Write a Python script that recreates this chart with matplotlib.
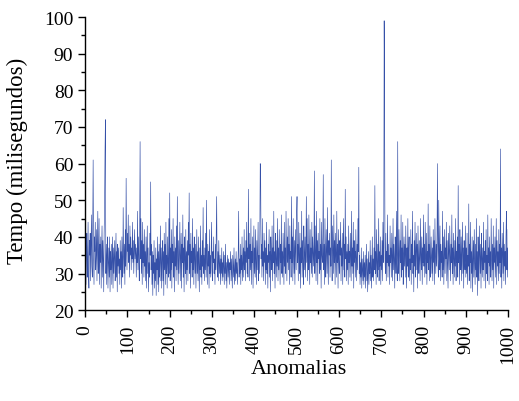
import numpy as np
import matplotlib
matplotlib.use("Agg")
import matplotlib.pyplot as plt
from matplotlib.ticker import MultipleLocator

# response time per anomaly (ms), 20 values per row
tempo = [
    38, 27, 36, 41, 29, 33, 44, 30, 26, 39, 35, 41, 28, 37, 46, 32, 29, 43, 61, 34,
    27, 40, 36, 44, 31, 35, 42, 28, 37, 47, 30, 34, 45, 27, 38, 33, 40, 26, 36, 43,
    29, 39, 34, 25, 41, 48, 63, 72, 30, 38, 27, 35, 40, 26, 33, 37, 29, 40, 25, 36,
    31, 38, 27, 34, 40, 26, 37, 30, 35, 39, 28, 33, 41, 29, 36, 25, 38, 32, 37, 30,
    34, 27, 39, 31, 36, 26, 40, 33, 29, 48, 35, 30, 38, 27, 42, 32, 56, 37, 31, 41,
    36, 46, 33, 38, 29, 43, 35, 40, 31, 37, 34, 44, 33, 39, 30, 36, 42, 34, 38, 35,
    29, 37, 33, 47, 31, 40, 35, 28, 43, 66, 34, 45, 30, 39, 27, 44, 33, 38, 29, 42,
    32, 36, 28, 40, 26, 34, 43, 30, 37, 25, 33, 29, 41, 35, 55, 31, 38, 27, 36, 24,
    35, 30, 39, 26, 33, 28, 37, 24, 34, 31, 40, 27, 36, 25, 38, 29, 33, 43, 28, 37,
    26, 34, 39, 28, 36, 24, 41, 31, 38, 27, 44, 30, 35, 26, 40, 33, 29, 45, 30, 52,
    28, 37, 31, 42, 26, 38, 33, 45, 29, 36, 25, 40, 32, 37, 28, 43, 31, 51, 34, 27,
    39, 30, 36, 44, 28, 35, 41, 26, 38, 33, 46, 29, 37, 25, 40, 34, 30, 42, 27, 36,
    31, 39, 28, 44, 35, 52, 30, 38, 26, 41, 33, 36, 29, 45, 31, 37, 27, 40, 34, 30,
    38, 26, 35, 42, 30, 36, 28, 40, 33, 25, 37, 31, 43, 29, 35, 27, 39, 32, 48, 30,
    35, 28, 37, 31, 41, 29, 50, 33, 27, 38, 32, 36, 26, 42, 30, 35, 29, 37, 44, 31,
    28, 36, 33, 40, 30, 34, 27, 38, 31, 42, 51, 32, 29, 36, 28, 39, 33, 30, 35, 27,
    34, 30, 37, 28, 33, 29, 36, 31, 27, 35, 30, 38, 28, 33, 26, 32, 35, 29, 34, 30,
    27, 33, 31, 36, 28, 34, 30, 26, 35, 32, 29, 37, 27, 31, 34, 28, 36, 30, 33, 27,
    32, 36, 47, 29, 34, 30, 38, 27, 35, 31, 40, 28, 33, 37, 29, 42, 31, 36, 28, 39,
    33, 44, 30, 37, 29, 53, 34, 41, 28, 38, 31, 45, 27, 36, 33, 40, 26, 35, 43, 30,
    37, 29, 42, 33, 27, 39, 31, 36, 44, 28, 35, 30, 40, 60, 58, 34, 38, 29, 45, 32,
    36, 28, 41, 33, 39, 27, 37, 31, 44, 30, 35, 26, 38, 33, 42, 29, 36, 25, 40, 34,
    31, 43, 28, 37, 33, 47, 30, 36, 26, 41, 34, 29, 39, 32, 45, 28, 37, 31, 42, 35,
    27, 38, 33, 46, 30, 36, 29, 41, 34, 27, 44, 32, 37, 30, 47, 35, 28, 40, 33, 45,
    31, 38, 27, 43, 34, 36, 29, 51, 33, 40, 28, 45, 35, 30, 39, 27, 42, 36, 31, 46,
    51, 33, 38, 28, 44, 35, 30, 41, 26, 37, 33, 47, 29, 39, 34, 27, 43, 36, 31, 40,
    29, 36, 51, 33, 45, 28, 38, 31, 46, 35, 27, 42, 33, 37, 30, 44, 29, 40, 36, 32,
    38, 58, 30, 43, 35, 28, 47, 33, 39, 27, 41, 34, 36, 30, 45, 31, 38, 26, 44, 35,
    33, 40, 57, 31, 38, 27, 45, 34, 29, 42, 36, 30, 48, 33, 27, 39, 35, 41, 29, 37,
    32, 61, 35, 28, 43, 37, 30, 46, 33, 39, 27, 41, 35, 29, 47, 33, 38, 26, 42, 34,
    30, 39, 35, 44, 28, 37, 32, 41, 27, 36, 45, 31, 38, 29, 53, 34, 40, 28, 36, 31,
    38, 27, 43, 33, 36, 29, 41, 35, 28, 47, 32, 37, 30, 44, 26, 39, 33, 36, 29, 42,
    34, 28, 38, 31, 45, 36, 59, 30, 35, 27, 33, 29, 37, 26, 34, 31, 28, 36, 27, 33,
    29, 35, 26, 32, 38, 28, 34, 25, 31, 36, 27, 33, 30, 39, 28, 35, 26, 32, 40, 29,
    34, 28, 37, 31, 54, 30, 36, 27, 42, 33, 29, 38, 31, 45, 28, 36, 32, 40, 27, 35,
    31, 39, 28, 44, 33, 37, 99, 76, 34, 30, 41, 28, 36, 33, 46, 29, 38, 32, 35, 27,
    43, 33, 37, 29, 41, 35, 28, 45, 31, 38, 34, 26, 40, 36, 30, 47, 33, 28, 66, 35,
    30, 42, 36, 28, 39, 33, 46, 29, 37, 31, 44, 27, 35, 40, 32, 38, 29, 43, 34, 26,
    37, 32, 45, 29, 36, 40, 28, 34, 31, 42, 27, 38, 33, 47, 30, 35, 25, 39, 32, 44,
    29, 36, 41, 31, 38, 26, 43, 34, 30, 39, 33, 28, 45, 35, 31, 40, 27, 37, 33, 46,
    32, 38, 29, 44, 35, 30, 41, 27, 36, 33, 49, 31, 38, 28, 43, 34, 29, 40, 35, 30,
    37, 28, 42, 33, 39, 27, 45, 35, 30, 38, 32, 41, 60, 34, 29, 50, 36, 31, 43, 28,
    38, 33, 36, 29, 47, 31, 40, 27, 35, 42, 30, 37, 34, 44, 28, 39, 33, 26, 41, 36,
    31, 43, 35, 28, 38, 33, 46, 30, 37, 27, 41, 34, 29, 39, 32, 45, 28, 36, 33, 40,
    29, 54, 33, 38, 27, 42, 35, 31, 40, 28, 36, 44, 30, 37, 26, 39, 34, 31, 43, 29,
    37, 30, 41, 27, 35, 32, 49, 28, 38, 33, 44, 26, 36, 30, 40, 25, 34, 39, 29, 42,
    33, 27, 38, 31, 45, 29, 36, 24, 40, 33, 28, 43, 35, 30, 38, 26, 41, 34, 29, 37,
    31, 44, 28, 36, 33, 39, 26, 42, 30, 35, 28, 46, 33, 37, 27, 40, 32, 36, 29, 45,
    34, 28, 38, 31, 43, 26, 37, 33, 40, 29, 35, 45, 27, 39, 32, 36, 28, 42, 30, 38,
    33, 64, 29, 37, 26, 41, 35, 30, 44, 28, 38, 32, 36, 27, 40, 47, 31, 37, 29, 42,
]
anomalias = np.arange(1, len(tempo) + 1)

plt.rcParams['font.family'] = ['Liberation Serif', 'DejaVu Serif']

fig = plt.figure(figsize=(5.19, 4.02), dpi=100)
ax = fig.add_axes([0.164, 0.226, 0.815, 0.729])

ax.plot(anomalias, tempo, color='#3550a8', lw=0.45)

ax.set_xlim(0, 1000)
ax.set_ylim(20, 100)
ax.xaxis.set_major_locator(MultipleLocator(100))
ax.xaxis.set_minor_locator(MultipleLocator(50))
ax.yaxis.set_major_locator(MultipleLocator(10))
ax.yaxis.set_minor_locator(MultipleLocator(5))

for s in ['top', 'right']:
    ax.spines[s].set_visible(False)
for s in ['left', 'bottom']:
    ax.spines[s].set_linewidth(1.0)

ax.tick_params(which='major', direction='out', length=5, width=1, labelsize=14)
ax.tick_params(which='minor', direction='out', length=3, width=1)
ax.tick_params(axis='x', labelrotation=90, pad=5)

# axis titles placed where the reference has them
fig.text(17 / 519, 1 - 161 / 402, 'Tempo (milisegundos)', rotation=90,
         ha='center', va='center', fontsize=16.5)
fig.text(299 / 519, 1 - 370 / 402, 'Anomalias', ha='center', va='center',
         fontsize=16)

fig.savefig('out.png', dpi=100)
